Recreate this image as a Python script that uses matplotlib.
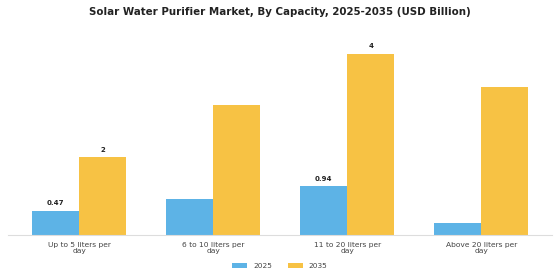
import matplotlib

matplotlib.use("Agg")
import matplotlib.pyplot as plt
import numpy as np

categories = ["Up to 5 liters per\nday", "6 to 10 liters per\nday",
              "11 to 20 liters per\nday", "Above 20 liters per\nday"]
values_2025 = [0.47, 0.70, 0.94, 0.23]
values_2035 = [1.5, 2.5, 3.5, 2.85]
labels_2025 = ["0.47", "", "0.94", ""]
labels_2035 = ["2", "", "4", ""]

blue = "#5DB3E6"
yellow = "#F7C244"

fig = plt.figure(figsize=(5.6, 2.8), dpi=100)
ax = fig.add_axes([0.0143, 0.161, 0.972, 0.74])

x = np.arange(len(categories))
w = 0.35
bars1 = ax.bar(x - w / 2, values_2025, w, color=blue, label="2025")
bars2 = ax.bar(x + w / 2, values_2035, w, color=yellow, label="2035")

for bar, txt in zip(bars1, labels_2025):
    if txt:
        ax.text(bar.get_x() + bar.get_width() / 2, bar.get_height() + 0.08, txt,
                ha="center", va="bottom", fontsize=5, fontweight="bold", color="#222222")
for bar, txt in zip(bars2, labels_2035):
    if txt:
        ax.text(bar.get_x() + bar.get_width() / 2, bar.get_height() + 0.08, txt,
                ha="center", va="bottom", fontsize=5, fontweight="bold", color="#222222")

ax.set_xlim(-0.53, 3.53)
ax.set_ylim(0, 4.0)
ax.set_xticks(x)
ax.set_xticklabels(categories, fontsize=5.4, color="#444444", linespacing=1.0)
ax.tick_params(axis="x", length=0, pad=5)
ax.set_yticks([])
for s in ["top", "right", "left"]:
    ax.spines[s].set_visible(False)
ax.spines["bottom"].set_color("#dddddd")
ax.spines["bottom"].set_linewidth(0.8)

fig.suptitle("Solar Water Purifier Market, By Capacity, 2025-2035 (USD Billion)",
             fontsize=7.4, fontweight="bold", color="#222222", y=0.975)

fig.legend(loc="lower center", ncol=2, frameon=False, fontsize=5.3,
           bbox_to_anchor=(0.5, 0.015), handlelength=2.0, handleheight=0.6,
           columnspacing=2.2, labelcolor="#444444")

fig.savefig("out.png", dpi=100)
